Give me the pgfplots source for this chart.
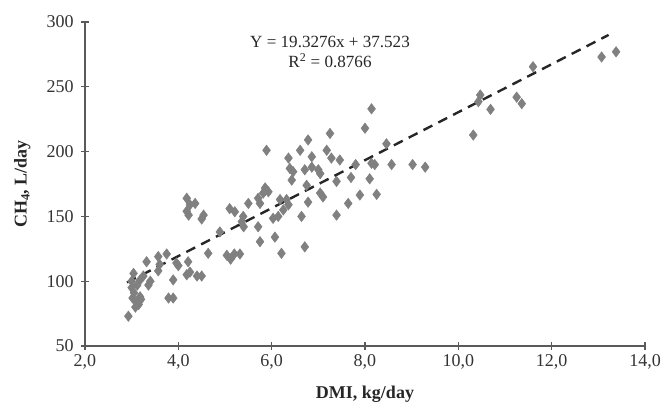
\documentclass[border=0pt]{standalone}
\usepackage{fontspec}
\setmainfont{Liberation Serif}
\usepackage{pgfplots}
\pgfplotsset{compat=1.18}
\definecolor{pt}{RGB}{128,128,128}
\definecolor{ax}{RGB}{90,90,90}
\begin{document}
\begin{tikzpicture}
\begin{axis}[
  at={(0,0)}, anchor=south west,
  scale only axis,
  width=420pt, height=243pt,
  xmin=2, xmax=14, ymin=50, ymax=300,
  axis x line*=bottom, axis y line*=left,
  axis line style={ax, line width=0.9pt},
  tick style={ax, line width=0.9pt},
  tick align=center,
  major tick length=6pt,
  xtick={2,4,6,8,10,12,14},
  xticklabels={{2,0},{4,0},{6,0},{8,0},{10,0},{12,0},{14,0}},
  ytick={50,100,150,200,250,300},
  /pgf/number format/assume math mode=true,
  tick label style={font=\fontsize{13.5}{15}\selectfont, text=black!80},
  yticklabel style={xshift=-2pt},
  xlabel={\textbf{DMI, kg/day}},
  ylabel={\textbf{CH\textsubscript{4}, L/day}},
  label style={font=\fontsize{13.5}{16}\selectfont, text=black!85},
  xlabel style={at={(axis description cs:0.5,0)}, anchor=center, yshift=-36.5pt},
  ylabel style={at={(axis description cs:0,0.5)}, anchor=center, yshift=47pt},
  clip=false,
]
\addplot[only marks, mark=diamond*, mark size=3.9pt, mark options={fill=pt, draw=pt}] table {
x y
2.93 73
3.0 100
3.0 95
3.05 91
3.02 87
3.1 84
3.08 80
3.15 82
3.18 88
3.12 97
3.2 86
3.04 106
3.18 101
3.25 104
3.32 115
3.36 97
3.4 100
3.57 108
3.57 119
3.6 113
3.75 121
3.79 87
3.89 87
3.89 101
3.96 114
4.0 112
4.18 105
4.21 115
4.25 107
4.4 104
4.5 104
4.18 164
4.25 159
4.36 160
4.18 154
4.22 151
4.54 151
4.5 148
4.64 121.5
4.89 138
5.04 120
5.12 117
5.2 121
5.32 121
5.1 156
5.21 153.6
5.5 160
5.39 150
5.36 146
5.4 142
5.71 164
5.75 160
5.86 170
5.93 169
5.71 142
5.75 130.5
5.89 201
6.03 148.5
6.14 150
6.07 134
6.18 163
6.32 163
6.36 159
6.25 155
5.86 172
5.82 168
6.36 195
6.39 187
6.46 184.5
6.43 178
6.61 201
6.78 209
6.86 196
6.71 186
6.86 188
7.0 186
7.04 183
6.75 174
7.04 168
7.1 165
7.18 201
7.25 214
7.28 195
7.46 193.5
7.39 177
7.7 180
8.1 179
6.78 161
7.39 151
6.64 150
7.89 166.5
7.64 160
8.25 167
6.71 126.5
6.21 121.5
8.0 218
8.14 233
8.46 206
8.14 191
8.21 190
8.57 190
7.8 190
9.02 190
9.29 188
10.32 212.8
10.43 238.5
10.47 243.7
10.69 232.6
11.25 242
11.36 237
11.6 265.5
13.07 273
13.38 277
};
\addplot[black!85, line width=1.8pt, dash pattern=on 7.5pt off 5pt] coordinates {(2.9,99) (13.22,290)};
\node[font=\fontsize{12.8}{15}\selectfont, text=black!85, align=center] at (axis cs:7.25,277) {Y = 19.3276x + 37.523\\R\textsuperscript{2} = 0.8766};
\end{axis}
\pgfresetboundingbox
\path[use as bounding box] (-63.75pt,-48.75pt) rectangle (435pt,259.5pt);
\end{tikzpicture}
\end{document}
